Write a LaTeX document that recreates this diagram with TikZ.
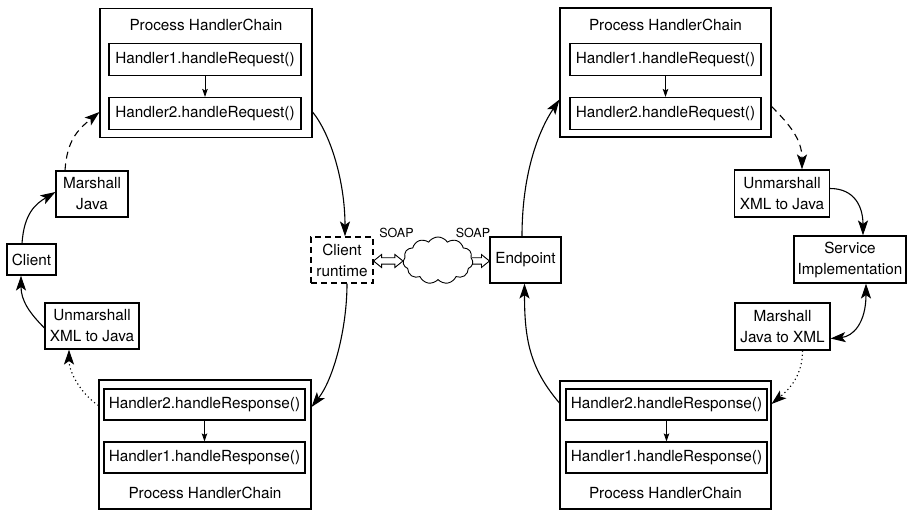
\documentclass[tikz,border=0pt]{standalone}
\usepackage{fontspec}
\setmainfont{TeX Gyre Heros}
\usetikzlibrary{arrows.meta,shapes.symbols,calc}
\begin{document}
\begin{tikzpicture}[x=1pt,y=-1pt,
  font=\fontsize{15.3}{21}\selectfont,
  box/.style={draw, line width=1.1pt, inner sep=0pt, align=center},
  chain/.style={box, minimum width=212pt, minimum height=129pt},
  hbox/.style={box, minimum height=32pt},
  tip/.tip={Stealth[length=15pt,width=10pt,inset=3.5pt]},
  link/.style={line width=1.1pt, -tip},
  twoway/.style={line width=1.1pt, tip-tip},
  dashlink/.style={link, dash pattern=on 7pt off 5pt},
  dotlink/.style={link, dash pattern=on 1.2pt off 3pt},
  inner/.style={line width=0.9pt, -{Stealth[length=8pt,width=5.5pt,inset=1.5pt]}},
  hollow/.style={draw, line width=0.9pt, line join=miter},
  soap/.style={font=\fontsize{12.5}{14}\selectfont, inner sep=0pt}
]
\useasboundingbox (0,0) rectangle (908,510);

% ---- client side: request chain ----
\node[chain] (chainTL) at (206,73) {};
\node (titleTL) at (206,25) {Process HandlerChain};
\node[hbox, minimum width=192pt] (reqA1) at (205,59.5) {Handler1.handleRequest()};
\node[hbox, minimum width=192pt] (reqA2) at (205,113.5) {Handler2.handleRequest()};
\draw[inner] (reqA1) -- (reqA2);

% ---- client side: response chain ----
\node[chain] (chainBL) at (205,444.5) {};
\node[hbox, minimum width=201pt, minimum height=31pt] (resA2) at (204.5,404.5) {Handler2.handleResponse()};
\node[hbox, minimum width=201pt, minimum height=31pt] (resA1) at (204.5,457.5) {Handler1.handleResponse()};
\node (titleBL) at (205,493) {Process HandlerChain};
\draw[inner] (resA2) -- (resA1);

% ---- server side: request chain ----
\node[chain, minimum width=211pt] (chainTR) at (665.5,72.5) {};
\node (titleTR) at (665.5,25) {Process HandlerChain};
\node[hbox, minimum width=191pt] (reqB1) at (665.5,59.5) {Handler1.handleRequest()};
\node[hbox, minimum width=191pt] (reqB2) at (665.5,113.5) {Handler2.handleRequest()};
\draw[inner] (reqB1) -- (reqB2);

% ---- server side: response chain ----
\node[chain, minimum width=211pt, minimum height=128pt] (chainBR) at (665.5,445) {};
\node[hbox, minimum width=201pt, minimum height=31pt] (resB2) at (666.5,404.5) {Handler2.handleResponse()};
\node[hbox, minimum width=201pt, minimum height=31pt] (resB1) at (666.5,457.5) {Handler1.handleResponse()};
\node (titleBR) at (665.5,493) {Process HandlerChain};
\draw[inner] (resB2) -- (resB1);

% ---- small boxes ----
\node[box, minimum width=72pt, minimum height=46pt] (marshallL) at (92,194) {Marshall\\Java};
\node[box, minimum width=49pt, minimum height=31pt] (client) at (31.5,259.5) {Client};
\node[box, minimum width=94pt, minimum height=46pt] (unmarshallL) at (92,326) {Unmarshall\\XML to Java};
\node[box, dash pattern=on 6pt off 4pt, minimum width=62pt, minimum height=46pt] (runtime) at (342,260) {Client\\runtime};
\node[cloud, draw, line width=0.9pt, cloud puffs=11, cloud puff arc=115, cloud ignores aspect,
      minimum width=70pt, minimum height=47pt, inner sep=0pt] (cloud) at (438,260.5) {};
\node[box, minimum width=71pt, minimum height=46pt] (endpoint) at (525.5,260) {Endpoint};
\node[box, minimum width=95pt, minimum height=47pt] (unmarshallR) at (782,193.5) {Unmarshall\\XML to Java};
\node[box, minimum width=112pt, minimum height=47pt] (service) at (850,259.5) {Service\\Implementation};
\node[box, minimum width=95pt, minimum height=47pt] (marshallR) at (782.5,326.5) {Marshall\\Java to XML};

\node[soap] (soapL) at (396.5,233) {SOAP};
\node[soap] (soapR) at (473,233) {SOAP};

% ---- SOAP transport: hollow block arrows ----
\coordinate (wA) at ([yshift=-1pt]runtime.east);
\coordinate (wB) at (cloud.west |- wA);
\coordinate (wC) at ([xshift=-1pt]cloud.east |- wA);
\coordinate (wD) at (endpoint.west |- wA);
\draw[hollow] (wA) -- ++(8,-6.5) -- ++(0,3.3) -- ($(wB)+(-8,-3.2)$) -- ++(0,-3.3)
  -- (wB) -- ++(-8,6.5) -- ++(0,-3.3) -- ($(wA)+(8,3.2)$) -- ++(0,3.3) -- cycle;
\draw[hollow] ($(wC)+(0,-3.2)$) -- ($(wD)+(-8,-3.2)$) -- ++(0,-3.3) -- (wD)
  -- ++(-8,6.5) -- ++(0,-3.3) -- ($(wC)+(0,3.2)$);

% ---- client flow ----
\draw[link] ([xshift=-9.5pt]client.north) .. controls +(2,-30) and +(-20,12) .. ([yshift=2pt]marshallL.west);
\draw[dashlink] ([xshift=-27pt]marshallL.north) .. controls +(2,-30) and +(-22,18) .. ([yshift=-39pt]chainTL.west);
\draw[link] ([yshift=-39pt]chainTL.east) .. controls +(18,22) and +(0,-55) .. ([xshift=3pt]runtime.north);
\draw[link] ([xshift=5pt]runtime.south) .. controls +(0,45) and +(22,-28) .. ([yshift=37.5pt]chainBL.east);
\draw[dotlink] ([yshift=39pt]chainBL.west) .. controls +(-18,-12) and +(0,22) .. ([xshift=-23pt]unmarshallL.south);
\draw[link] ([yshift=-2pt]unmarshallL.west) .. controls +(-15,-15) and +(0,25) .. ([xshift=-10.5pt]client.south);

% ---- server flow ----
\draw[link] ([xshift=-3.5pt]endpoint.north) .. controls +(0,-65) and +(-20,30) .. ([yshift=-27pt]chainTR.west);
\draw[dashlink] ([yshift=-34pt]chainTR.east) .. controls +(18,18) and +(0,-30) .. ([xshift=20pt]unmarshallR.north);
\draw[link] ([yshift=5pt]unmarshallR.east) .. controls +(25,0) and +(0,-28) .. ([xshift=13pt]service.north);
\draw[twoway] ([xshift=16pt]service.south) .. controls +(0,40) and +(22,-2) .. ([yshift=-12pt]marshallR.east);
\draw[dotlink] ([xshift=20pt]marshallR.south) .. controls +(0,25) and +(18,-15) .. ([yshift=41pt]chainBR.east);
\draw[link] ([yshift=42pt]chainBR.west) .. controls +(-30,-35) and +(0,55) .. ([xshift=-1pt]endpoint.south);
\end{tikzpicture}
\end{document}
